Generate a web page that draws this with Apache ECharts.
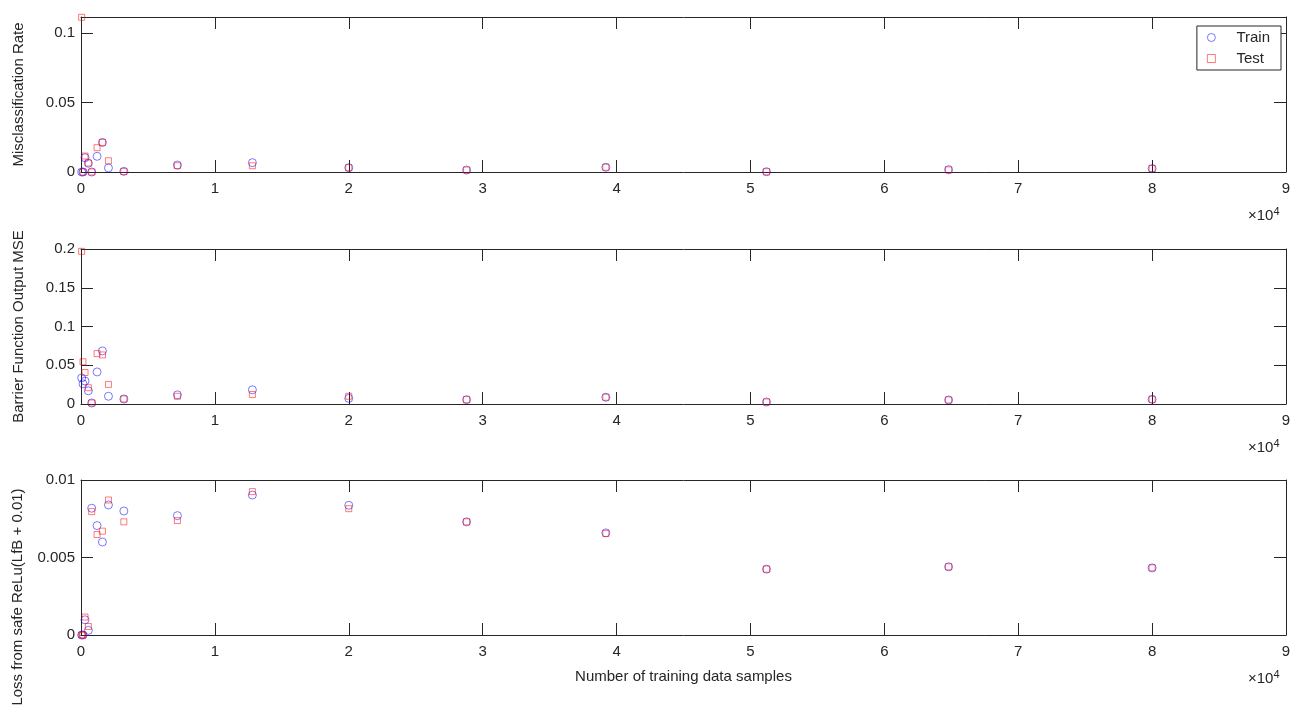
<!DOCTYPE html>
<html>
<head>
<meta charset="utf-8">
<script src="https://cdn.jsdelivr.net/npm/echarts@6/dist/echarts.min.js"></script>
<style>
html,body{margin:0;padding:0;background:#fff;}
#chart{width:1306px;height:713px;}
</style>
</head>
<body>
<div id="chart"></div>
<script>
// ---- data ----
var samples = [50,150,300,550,800,1200,1600,2050,3200,7200,12800,20000,28800,39200,51200,64800,80000];
var misTrain = [0,0,0.0103,0.0063,0,0.0113,0.0213,0.0029,0.0005,0.0050,0.0067,0.0031,0.0014,0.0034,0.0002,0.0017,0.0025];
var misTest  = [0.1115,0,0.0115,0.0065,0,0.0175,0.0213,0.0081,0.0003,0.0045,0.0045,0.0031,0.0014,0.0034,0.0002,0.0015,0.0025];
var mseTrain = [0.0336,0.026,0.0296,0.017,0.0013,0.0414,0.0685,0.010,0.0065,0.0118,0.0183,0.0073,0.0056,0.0087,0.0026,0.0052,0.006];
var mseTest  = [0.197,0.0545,0.0406,0.021,0.0013,0.065,0.0633,0.0253,0.0065,0.010,0.0122,0.010,0.0056,0.0087,0.0026,0.0052,0.006];
var lossTrain = [0,0,0.00098,0.0003,0.00818,0.00706,0.0060,0.00839,0.0080,0.0077,0.00903,0.00837,0.0073,0.00659,0.00425,0.0044,0.00433];
var lossTest  = [0,0,0.00116,0.00055,0.00796,0.00648,0.0067,0.00871,0.0073,0.00738,0.00925,0.00815,0.0073,0.00655,0.00425,0.0044,0.00433];
var yNames = ['Misclassification Rate','Barrier Function Output MSE','Loss from safe ReLu(LfB + 0.01)'];
var yMax = [0.1117, 0.2, 0.01];
var yInterval = [0.05, 0.05, 0.005];
var xLabelName = 'Number of training data samples';
var xExponent = 4;

var FONT = '"Liberation Sans", Arial, Helvetica, sans-serif';
var AX = '#262626';
var gridTops = [17, 249, 480];
var gridH = 155;
var trainColor = 'rgba(0,0,255,0.65)';
var testColor = 'rgba(255,0,0,0.65)';

function pairs(ys){ return samples.map(function(x,i){ return [x, ys[i]]; }); }
var trainSets = [misTrain, mseTrain, lossTrain];
var testSets = [misTest, mseTest, lossTest];

var grids = [], xAxes = [], yAxes = [], series = [], graphics = [];
for (var g = 0; g < 3; g++) {
  grids.push({left: 81, right: 20, top: gridTops[g], height: gridH, show: false});
  xAxes.push({
    type: 'value', gridIndex: g, min: 0, max: 90000, interval: 10000, position: 'bottom',
    name: g === 2 ? xLabelName : '', nameLocation: 'middle', nameGap: 34,
    nameTextStyle: {fontFamily: FONT, fontSize: 15, color: AX},
    axisLine: {show: true, lineStyle: {color: AX, width: 1}},
    axisTick: {show: true, inside: true, length: 12, lineStyle: {color: AX}},
    axisLabel: {show: true, margin: 9, fontFamily: FONT, fontSize: 15, color: AX,
      formatter: function(v){ return String(v / Math.pow(10, xExponent)); }},
    splitLine: {show: false}
  });
  xAxes.push({
    type: 'value', gridIndex: g, min: 0, max: 90000, interval: 10000, position: 'top',
    axisLine: {show: true, onZero: false, lineStyle: {color: AX, width: 1}},
    axisTick: {show: true, inside: true, length: 12, lineStyle: {color: AX}},
    axisLabel: {show: false}, splitLine: {show: false}
  });
  yAxes.push({
    type: 'value', gridIndex: g, min: 0, max: yMax[g], interval: yInterval[g], position: 'left',
    name: g < 2 ? yNames[g] : '', nameLocation: 'middle', nameGap: 55, nameRotate: 90,
    nameTextStyle: {fontFamily: FONT, fontSize: 15, color: AX},
    axisLine: {show: true, onZero: false, lineStyle: {color: AX, width: 1}},
    axisTick: {show: true, inside: true, length: 12, lineStyle: {color: AX}},
    axisLabel: {show: true, margin: 6, fontFamily: FONT, fontSize: 15, color: AX,
      showMaxLabel: g !== 0, padding: [3, 0, 0, 0]},
    splitLine: {show: false}
  });
  yAxes.push({
    type: 'value', gridIndex: g, min: 0, max: yMax[g], interval: yInterval[g], position: 'right',
    axisLine: {show: true, onZero: false, lineStyle: {color: AX, width: 1}},
    axisTick: {show: true, inside: true, length: 12, lineStyle: {color: AX}},
    axisLabel: {show: false}, splitLine: {show: false}
  });
  series.push({
    name: 'Train', type: 'scatter', xAxisIndex: 2*g, yAxisIndex: 2*g,
    symbol: 'circle', symbolSize: 8, data: pairs(trainSets[g]),
    itemStyle: {color: 'rgba(0,0,0,0)', borderColor: trainColor, borderWidth: 1},
    emphasis: {disabled: true}, z: 2
  });
  series.push({
    name: 'Test', type: 'scatter', xAxisIndex: 2*g, yAxisIndex: 2*g,
    symbol: 'rect', symbolSize: 6, data: pairs(testSets[g]),
    itemStyle: {color: 'rgba(0,0,0,0)', borderColor: testColor, borderWidth: 1},
    emphasis: {disabled: true}, z: 3
  });
  graphics.push({
    type: 'text', left: 1248, top: gridTops[g] + gridH + 34,
    style: {
      text: '{a|\u00d710}{b|' + xExponent + '}',
      rich: {
        a: {fontFamily: FONT, fontSize: 15, fill: AX, color: AX},
        b: {fontFamily: FONT, fontSize: 11, fill: AX, color: AX, verticalAlign: 'top', padding: [0,0,8,0]}
      }
    }
  });
}
graphics.push({
  type: 'text', x: 18, y: 597, rotation: Math.PI / 2,
  style: {text: yNames[2], fontFamily: FONT, fontSize: 15, fill: AX,
    textAlign: 'center', textVerticalAlign: 'middle'}
});

var chart = echarts.init(document.getElementById('chart'), null, {renderer: 'canvas'});
chart.setOption({
  backgroundColor: '#fff',
  animation: false,
  grid: grids,
  xAxis: xAxes,
  yAxis: yAxes,
  series: series,
  graphic: graphics,
  legend: {
    orient: 'vertical', right: 25, top: 26,
    backgroundColor: '#fff', borderColor: AX, borderWidth: 1, borderRadius: 0,
    padding: [4, 11, 4, 10], itemGap: 6, itemWidth: 8, itemHeight: 8,
    textStyle: {fontFamily: FONT, fontSize: 15, color: AX, padding: [0, 0, 0, 16]},
    data: [
      {name: 'Train', icon: 'circle', itemStyle: {color: 'rgba(0,0,0,0)', borderColor: trainColor, borderWidth: 1}},
      {name: 'Test', icon: 'rect', itemStyle: {color: 'rgba(0,0,0,0)', borderColor: testColor, borderWidth: 1}}
    ]
  }
});
</script>
</body>
</html>
